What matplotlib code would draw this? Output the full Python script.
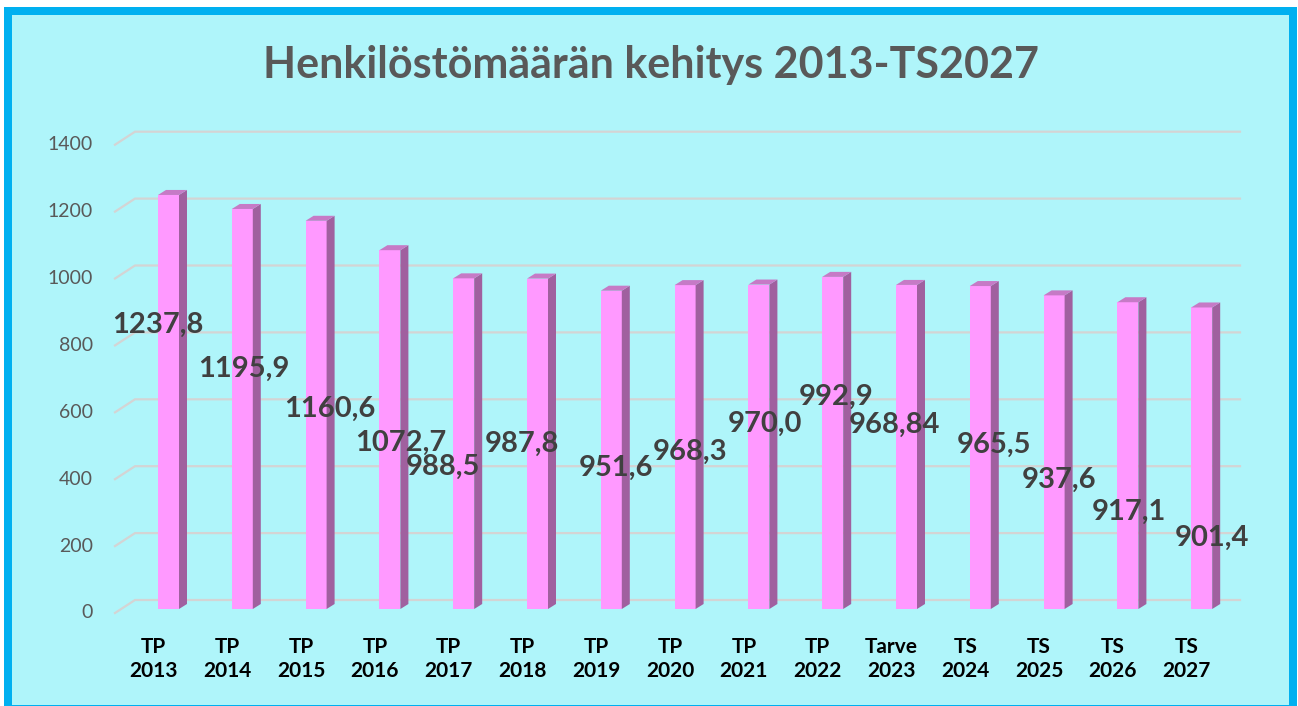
import matplotlib

matplotlib.use("Agg")
import matplotlib.pyplot as plt
from matplotlib.patches import Polygon, Rectangle

# Data
categories = ["TP\n2013", "TP\n2014", "TP\n2015", "TP\n2016", "TP\n2017", "TP\n2018",
              "TP\n2019", "TP\n2020", "TP\n2021", "TP\n2022", "Tarve\n2023",
              "TS\n2024", "TS\n2025", "TS\n2026", "TS\n2027"]
values = [1237.8, 1195.9, 1160.6, 1072.7, 988.5, 987.8, 951.6, 968.3,
          970.0, 992.9, 968.84, 965.5, 937.6, 917.1, 901.4]
value_labels = ["1237,8", "1195,9", "1160,6", "1072,7", "988,5", "987,8", "951,6",
                "968,3", "970,0", "992,9", "968,84", "965,5", "937,6", "917,1", "901,4"]
y_ticks = [0, 200, 400, 600, 800, 1000, 1200, 1400]

# Manual label placement (as in the original), layout only
label_y = [849, 717, 598, 496, 425, 493, 422, 469, 553, 634, 550, 490, 386, 290, 212]
label_dx_px = [-11, 2, 14, 11, -21, -16, 5, 5, 6, 3, -12, 14, 5, 1, 10]

W, H = 1298, 706
fig = plt.figure(figsize=(W / 100, H / 100), dpi=100)
fig.patch.set_facecolor("white")

# Outer frame: blue border with cyan fill (behind the axes)
fig.patches.append(Rectangle((4 / W, 0), 1293 / W, (H - 7) / H, transform=fig.transFigure,
                             facecolor="#00b0f0", edgecolor="none", zorder=-2))
fig.patches.append(Rectangle((12 / W, 1 / H), 1277 / W, (H - 16) / H, transform=fig.transFigure,
                             facecolor="#aff5fa", edgecolor="none", zorder=-1))

# Axes placed so that bar baseline sits at pixel 609 and 1400 at ~141
ux = 73.8      # px per category
uy = 0.3345    # px per unit
left_px = 168.5 - 0.5 * ux
ax = fig.add_axes([left_px / W, (H - 609) / H, 15 * ux / W, 1400 * uy / H])
ax.set_xlim(-0.5, 14.5)
ax.set_ylim(0, 1400)
ax.axis("off")

# 3D-style gridlines (back wall plus slanted floor edge)
x_front = (115 - 168.5) / ux
x_back = (135 - 168.5) / ux
x_end = (1240 - 168.5) / ux
for v in y_ticks:
    yb = v + 9 / uy
    yf = v - 4 / uy
    ax.plot([x_front, x_back, x_end], [yf, yb, yb], color="#d4d4d4", lw=1.6,
            clip_on=False, zorder=1, solid_joinstyle="miter")
    ax.text((93 - 168.5) / ux, yf, str(v), ha="right", va="center",
            fontsize=14, color="#595959", family="Lato")

# Bars: front face, side face and top face
bw = 21 / ux
dx = 8 / ux
dy = 5 / uy
for i, v in enumerate(values):
    ax.bar(i, v, width=bw, color="#ff99ff", edgecolor="none", zorder=3)
    r = i + bw / 2
    l = i - bw / 2
    ax.add_patch(Polygon([(r, 0), (r + dx, dy), (r + dx, v + dy), (r, v)],
                         closed=True, facecolor="#a0609f", edgecolor="none", zorder=3))
    ax.add_patch(Polygon([(l, v), (r, v), (r + dx, v + dy), (l + dx, v + dy)],
                         closed=True, facecolor="#c67ac6", edgecolor="none", zorder=3))

# Data labels
for i, txt in enumerate(value_labels):
    ax.text(i + label_dx_px[i] / ux, label_y[i], txt, ha="center", va="center",
            fontsize=21, fontweight="bold", color="#404040", family="Lato",
            zorder=5, clip_on=False)

# Category labels
for i, cat in enumerate(categories):
    ax.text(i - 15 / ux, -50 / uy, cat, ha="center", va="center", fontsize=15,
            fontweight="bold", color="black", family="Lato", linespacing=1.25,
            clip_on=False)

fig.text(651 / W, 1 - 65 / H, "Henkilöstömäärän kehitys 2013-TS2027", ha="center",
         va="center", fontsize=31, fontweight="bold", color="#595959", family="Lato")

fig.savefig("out.png", dpi=100)
